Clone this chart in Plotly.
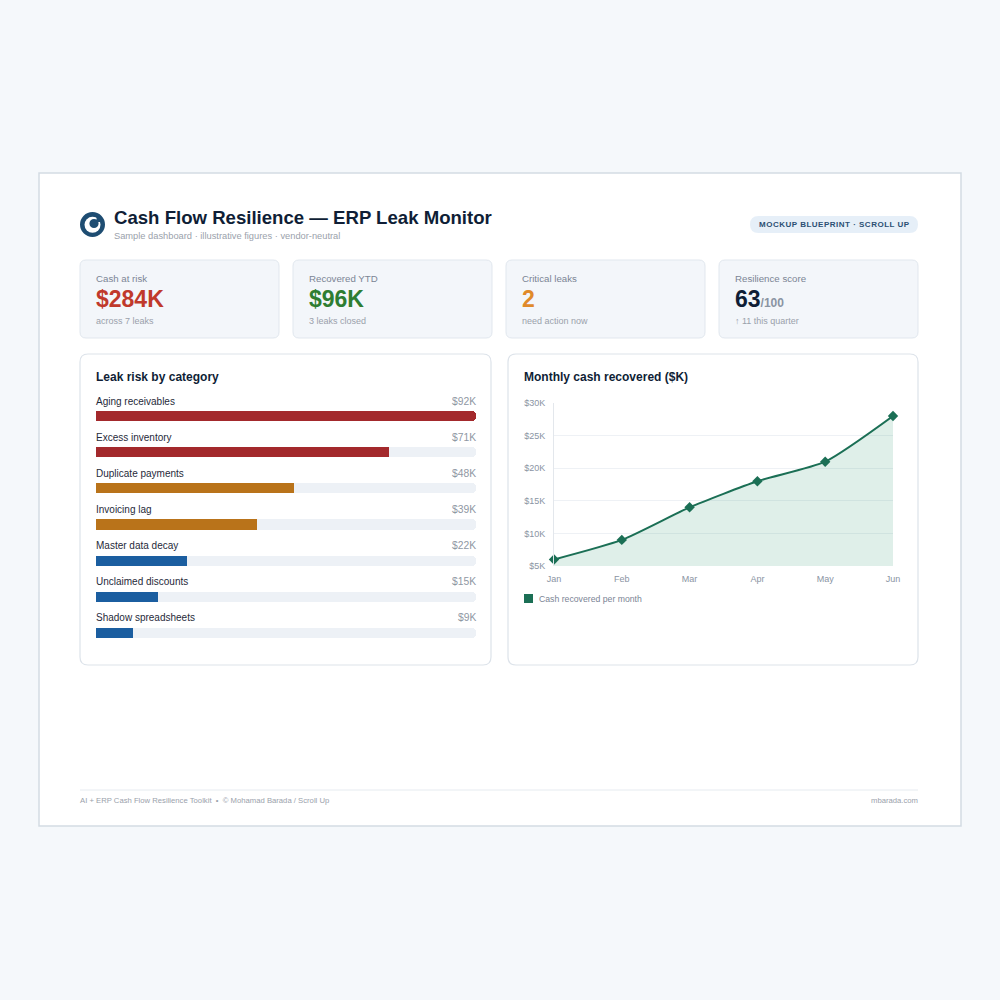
import plotly.graph_objects as go

# ---------------- DATA ----------------
categories = ["Aging receivables", "Excess inventory", "Duplicate payments", "Invoicing lag",
              "Master data decay", "Unclaimed discounts", "Shadow spreadsheets"]
leak_values = [92, 71, 48, 39, 22, 15, 9]          # $K
months = ["Jan", "Feb", "Mar", "Apr", "May", "Jun"]
recovered = [6, 9, 14, 18, 21, 28]                 # $K

kpi_labels = ["Cash at risk", "Recovered YTD", "Critical leaks", "Resilience score"]
kpi_values = ["$284K", "$96K", "2", "63"]
kpi_suffix = ["", "", "", "/100"]
kpi_subs = ["across 7 leaks", "3 leaks closed", "need action now", "↑ 11 this quarter"]

title_text = "Cash Flow Resilience — ERP Leak Monitor"
subtitle_text = "Sample dashboard · illustrative figures · vendor-neutral"
badge_text = "MOCKUP BLUEPRINT · SCROLL UP"
footer_left = "AI + ERP Cash Flow Resilience Toolkit  •  © Mohamad Barada / Scroll Up"
footer_right = "mbarada.com"

# ---------------- STYLE ----------------
FONT = "Liberation Sans, Arial, Helvetica, sans-serif"
DARK = "#0f1e36"
GRAY = "#7b8595"
LGRAY = "#9aa1ab"
LOGO = "#1e4d72"
bar_colors = ["#a3292c", "#a3292c", "#b9731a", "#b9731a", "#1b5ea0", "#1b5ea0", "#1b5ea0"]
kpi_colors = ["#c0392b", "#2e7d32", "#e08a2a", DARK]
LINE = "#1b6f55"


def X(px):
    return px / 1000.0


def Y(py):
    return 1 - py / 1000.0


def rrect(x0, y0, x1, y1, r, fill, line, lw=1):
    a, b, c, d = X(x0), Y(y0), X(x1), Y(y1)
    rr = r / 1000.0
    p = (f"M {a+rr},{b} L {c-rr},{b} Q {c},{b} {c},{b-rr} L {c},{d+rr} Q {c},{d} {c-rr},{d} "
         f"L {a+rr},{d} Q {a},{d} {a},{d+rr} L {a},{b-rr} Q {a},{b} {a+rr},{b} Z")
    return dict(type="path", xref="paper", yref="paper", path=p, fillcolor=fill,
                line=dict(color=line, width=lw), layer="below")


def circle(cx, cy, r, color):
    return dict(type="circle", xref="paper", yref="paper", x0=X(cx - r), x1=X(cx + r),
                y0=Y(cy + r), y1=Y(cy - r), fillcolor=color, line=dict(width=0))


shapes = []
ann = []


def text(px, py, s, size, color, anchor="left", bold=False, yanchor="middle"):
    if bold:
        s = f"<b>{s}</b>"
    shift = -2 if anchor == "left" else (2 if anchor == "right" else 0)
    ann.append(dict(xref="paper", yref="paper", x=X(px), y=Y(py), text=s, showarrow=False,
                    xanchor=anchor, yanchor=yanchor, xshift=shift,
                    font=dict(family=FONT, size=size, color=color)))


# outer card
shapes.append(dict(type="rect", xref="paper", yref="paper", x0=X(39), x1=X(961), y0=Y(173), y1=Y(826),
                   fillcolor="white", line=dict(color="#d3dbe4", width=1.5), layer="below"))

# logo
shapes.append(circle(92.5, 224.5, 12.5, LOGO))
shapes.append(circle(92.5, 224.8, 8, "white"))
shapes.append(circle(94, 223.5, 4.6, LOGO))
shapes.append(circle(99.3, 219.3, 2.8, LOGO))

# header
text(114, 218, title_text, 18.6, DARK, bold=True)
text(114, 236, subtitle_text, 9.3, LGRAY)

# badge
shapes.append(rrect(750, 216, 918, 233, 8.5, "#e6eff8", "#e6eff8", 0))
ann.append(dict(xref="paper", yref="paper", x=X(834), y=Y(224.5), showarrow=False,
                text=f"<b><span style='letter-spacing:0.5px'>{badge_text}</span></b>",
                xanchor="center", yanchor="middle", font=dict(family=FONT, size=8, color="#2c4f74")))

# KPI cards
card_x = [80, 293, 506, 719]
for i, cx in enumerate(card_x):
    shapes.append(rrect(cx, 260, cx + 199, 338, 6, "#f3f6fa", "#e1e7ee", 1))
    text(cx + 16, 278, kpi_labels[i], 9.7, GRAY)
    v = f"<b>{kpi_values[i]}</b>"
    if kpi_suffix[i]:
        v += f"<span style='font-size:12px;color:#8a94a3'><b>{kpi_suffix[i]}</b></span>"
    text(cx + 16, 299, v, 23, kpi_colors[i])
    text(cx + 16, 321, kpi_subs[i], 9, LGRAY)

# panels
shapes.append(rrect(80, 354, 491, 665, 8, "white", "#dde3ea", 1.2))
shapes.append(rrect(508, 354, 918, 665, 8, "white", "#dde3ea", 1.2))
text(96, 377, "Leak risk by category", 12, DARK, bold=True)
text(524, 377, "Monthly cash recovered ($K)", 12, DARK, bold=True)

# footer
shapes.append(dict(type="line", xref="paper", yref="paper", x0=X(80), x1=X(918), y0=Y(790), y1=Y(790),
                   line=dict(color="#e6ebf0", width=1)))
text(80, 800, footer_left, 7.7, LGRAY)
text(918, 800, footer_right, 7.7, LGRAY, anchor="right")

# ---------------- BAR CHART ----------------
vmax = max(leak_values)
fig = go.Figure()
fig.add_trace(go.Bar(y=categories, x=[vmax] * len(categories), orientation="h", width=0.28,
                     marker=dict(color="#edf1f6", cornerradius=4, line=dict(width=0)),
                     hoverinfo="skip", xaxis="x", yaxis="y", showlegend=False))
fig.add_trace(go.Bar(y=categories, x=leak_values, orientation="h", width=0.28,
                     marker=dict(color=bar_colors, cornerradius=4, line=dict(width=0)),
                     hoverinfo="skip", xaxis="x", yaxis="y", showlegend=False))
for c, v in zip(categories, leak_values):
    ann.append(dict(xref="x", yref="y", x=0, y=c, yshift=15, xshift=-2, text=c, showarrow=False,
                    xanchor="left", yanchor="middle", font=dict(family=FONT, size=10, color="#1f2a3a")))
    ann.append(dict(xref="x", yref="y", x=vmax, y=c, yshift=15, xshift=2, text=f"${v}K", showarrow=False,
                    xanchor="right", yanchor="middle", font=dict(family=FONT, size=10.3, color="#8f97a3")))

# ---------------- LINE CHART ----------------
fig.add_trace(go.Scatter(x=months, y=recovered, xaxis="x2", yaxis="y2", mode="lines+markers",
                         line=dict(color=LINE, width=2, shape="spline", smoothing=0.6),
                         marker=dict(symbol="diamond", size=8, color=LINE),
                         fill="tozeroy", fillcolor="rgba(40,150,110,0.15)",
                         cliponaxis=False, showlegend=False, hoverinfo="skip"))

# custom legend
shapes.append(dict(type="rect", xref="paper", yref="paper", x0=X(524), x1=X(533), y0=Y(594), y1=Y(603),
                   fillcolor=LINE, line=dict(width=0)))
text(539, 599, "Cash recovered per month", 8.7, GRAY)

fig.update_layout(
    width=1000, height=1000, margin=dict(l=0, r=0, t=0, b=0, autoexpand=False),
    paper_bgcolor="#f5f8fb", plot_bgcolor="rgba(0,0,0,0)",
    barmode="overlay", bargap=0, showlegend=False,
    xaxis=dict(domain=[X(96), X(476)], range=[0, vmax], visible=False, fixedrange=True, automargin=False),
    yaxis=dict(domain=[Y(651), Y(398)], range=[len(categories) - 0.5, -0.5], visible=False,
               categoryorder="array", categoryarray=categories, automargin=False),
    xaxis2=dict(domain=[X(554), X(893)], anchor="y2", range=[0, len(months) - 1], showgrid=False,
                showline=False, zeroline=False, ticks="", tickfont=dict(family=FONT, size=9, color="#8a94a3"),
                ticklabelstandoff=6, automargin=False),
    yaxis2=dict(domain=[Y(566), Y(403)], anchor="x2", range=[5, 30], dtick=5, tick0=5,
                tickprefix="$", ticksuffix="K", showgrid=True, gridcolor="#eef1f5", gridwidth=1,
                showline=True, linecolor="#e3e7ec", linewidth=1, zeroline=False, ticks="",
                tickfont=dict(family=FONT, size=9, color="#8a94a3"), ticklabelstandoff=6, automargin=False),
    shapes=shapes, annotations=ann,
)

fig.write_html("out.html", config={"displayModeBar": False})
